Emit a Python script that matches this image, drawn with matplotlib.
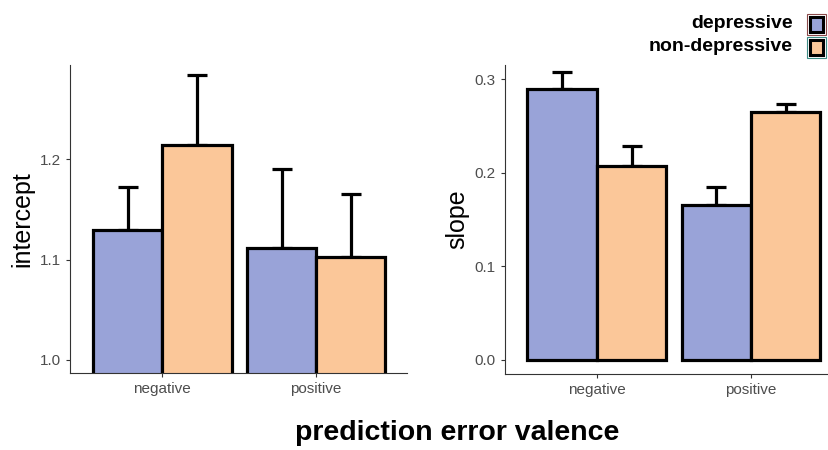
import numpy as np
import matplotlib
matplotlib.use("Agg")
import matplotlib.pyplot as plt
from matplotlib.patches import Rectangle

plt.rcParams['font.family'] = ['Liberation Sans', 'DejaVu Sans']

# data
valence = ['negative', 'positive']
groups = ['depressive', 'non-depressive']
intercept_dep = [1.130, 1.112]
intercept_dep_se = [0.042, 0.078]
intercept_nondep = [1.214, 1.103]
intercept_nondep_se = [0.070, 0.062]
slope_dep = [0.289, 0.165]
slope_dep_se = [0.019, 0.020]
slope_nondep = [0.207, 0.265]
slope_nondep_se = [0.022, 0.008]

col_dep = '#99A3D8'
col_nondep = '#FBC799'
W, H = 829, 450

fig = plt.figure(figsize=(W / 100, H / 100), dpi=100)


def px_axes(left, top, right, bottom):
    return fig.add_axes([left / W, 1 - bottom / H, (right - left) / W, (bottom - top) / H])


def panel(ax, dep, dep_se, nondep, nondep_se, ylabel, yticks, ylim, xlim):
    x = np.arange(1, len(valence) + 1)
    w = 0.45
    for vals, se, c, off in [(dep, dep_se, col_dep, -w / 2), (nondep, nondep_se, col_nondep, w / 2)]:
        ax.errorbar(x + off, vals, yerr=[np.zeros(len(se)), se], fmt='none', ecolor='black',
                    elinewidth=2.3, capsize=7.2, capthick=2.3, zorder=1)
        ax.bar(x + off, vals, width=w, color=c, edgecolor='black', linewidth=2.3, zorder=2)
    ax.set_xlim(*xlim)
    ax.set_ylim(*ylim)
    ax.set_xticks(x)
    ax.set_xticklabels(valence)
    ax.set_yticks(yticks)
    ax.set_yticklabels([f'{t:.1f}' for t in yticks])
    ax.tick_params(labelsize=11, labelcolor='#4D4D4D', color='#333333', length=3, width=0.8)
    for s in ['top', 'right']:
        ax.spines[s].set_visible(False)
    for s in ['left', 'bottom']:
        ax.spines[s].set_color('#333333')
        ax.spines[s].set_linewidth(0.8)
    ax.set_ylabel(ylabel, fontsize=18, labelpad=4)


ax1 = px_axes(70, 65, 407, 373)
panel(ax1, intercept_dep, intercept_dep_se, intercept_nondep, intercept_nondep_se,
      'intercept', [1.0, 1.1, 1.2], (0.987, 1.294), (0.40, 2.59))

ax2 = px_axes(505, 65, 828, 374)
panel(ax2, slope_dep, slope_dep_se, slope_nondep, slope_nondep_se,
      'slope', [0.0, 0.1, 0.2, 0.3], (-0.015, 0.315), (0.404, 2.50))

fig.text(457 / W, 1 - 433 / H, 'prediction error valence', fontsize=20.5, fontweight='bold',
         ha='center', va='center')

# legend, drawn by hand at the top right
for i, (g, c, outline) in enumerate(zip(groups, [col_dep, col_nondep], ['#8B4A4A', '#3E8C86'])):
    cy = 24.5 + i * 22.5
    fig.text(793 / W, 1 - (cy - 0.5) / H, g, fontsize=14, fontweight='bold', ha='right', va='center')
    fig.patches.append(Rectangle(((807) / W, 1 - (cy + 10.5) / H), 19 / W, 21 / H,
                                 transform=fig.transFigure, facecolor='white',
                                 edgecolor=outline, linewidth=0.8))
    fig.patches.append(Rectangle(((810) / W, 1 - (cy + 7.5) / H), 13 / W, 15 / H,
                                 transform=fig.transFigure, facecolor=c,
                                 edgecolor='black', linewidth=2.2))

fig.savefig('out.png', dpi=100)
